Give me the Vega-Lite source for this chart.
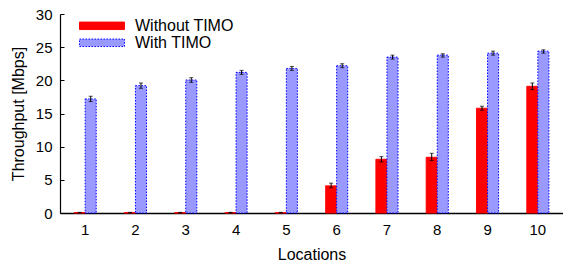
{
  "$schema": "https://vega.github.io/schema/vega-lite/v6.json",
  "width": 503,
  "height": 199,
  "autosize": {"type": "none"},
  "padding": {"left": 60, "top": 14, "right": 0, "bottom": 55},
  "background": "white",
  "config": {
    "font": "Liberation Sans",
    "view": {"stroke": null},
    "axis": {"domainColor": "black", "tickColor": "black", "labelColor": "black", "titleColor": "black", "labelFontSize": 15, "titleFontSize": 16, "titleFontWeight": "normal", "grid": false, "labelOverlap": false}
  },
  "data": {
    "values": [
      {"loc": "1", "series": "Without TIMO", "value": 0.05, "lo": 0.0, "hi": 0.1},
      {"loc": "2", "series": "Without TIMO", "value": 0.05, "lo": 0.0, "hi": 0.1},
      {"loc": "3", "series": "Without TIMO", "value": 0.05, "lo": 0.0, "hi": 0.1},
      {"loc": "4", "series": "Without TIMO", "value": 0.05, "lo": 0.0, "hi": 0.1},
      {"loc": "5", "series": "Without TIMO", "value": 0.05, "lo": 0.0, "hi": 0.1},
      {"loc": "6", "series": "Without TIMO", "value": 4.1, "lo": 3.8, "hi": 4.5},
      {"loc": "7", "series": "Without TIMO", "value": 8.1, "lo": 7.7, "hi": 8.5},
      {"loc": "8", "series": "Without TIMO", "value": 8.4, "lo": 7.9, "hi": 9.0},
      {"loc": "9", "series": "Without TIMO", "value": 15.8, "lo": 15.5, "hi": 16.1},
      {"loc": "10", "series": "Without TIMO", "value": 19.1, "lo": 18.6, "hi": 19.6},
      {"loc": "1", "series": "With TIMO", "value": 17.2, "lo": 16.8, "hi": 17.6},
      {"loc": "2", "series": "With TIMO", "value": 19.2, "lo": 18.8, "hi": 19.6},
      {"loc": "3", "series": "With TIMO", "value": 20.05, "lo": 19.7, "hi": 20.4},
      {"loc": "4", "series": "With TIMO", "value": 21.2, "lo": 20.9, "hi": 21.5},
      {"loc": "5", "series": "With TIMO", "value": 21.8, "lo": 21.5, "hi": 22.1},
      {"loc": "6", "series": "With TIMO", "value": 22.2, "lo": 21.9, "hi": 22.5},
      {"loc": "7", "series": "With TIMO", "value": 23.5, "lo": 23.2, "hi": 23.8},
      {"loc": "8", "series": "With TIMO", "value": 23.8, "lo": 23.5, "hi": 24.0},
      {"loc": "9", "series": "With TIMO", "value": 24.1, "lo": 23.8, "hi": 24.4},
      {"loc": "10", "series": "With TIMO", "value": 24.4, "lo": 24.1, "hi": 24.6}
    ]
  },
  "encoding": {
    "x": {
      "field": "loc", "type": "ordinal", "sort": null,
      "scale": {"paddingInner": 0.56, "paddingOuter": 0.28},
      "axis": {"title": "Locations", "labelAngle": 0, "labelPadding": 9, "titlePadding": 9, "tickSize": 0, "domainWidth": 1.5}
    },
    "xOffset": {"field": "series", "type": "nominal", "sort": ["Without TIMO", "With TIMO"]}
  },
  "layer": [
    {
      "mark": {"type": "bar", "strokeWidth": 1},
      "encoding": {
        "y": {
          "field": "value", "type": "quantitative",
          "scale": {"domain": [0, 30], "nice": false},
          "axis": {"title": "Throughput [Mbps]", "values": [0, 5, 10, 15, 20, 25, 30], "tickCount": 7, "labelOverlap": false, "tickSize": -4, "labelPadding": 12, "titlePadding": 9, "domainWidth": 1.2}
        },
        "fill": {
          "field": "series", "type": "nominal",
          "scale": {"domain": ["Without TIMO", "With TIMO"], "range": ["#ff0000", "#9999ff"]},
          "legend": {
            "title": null, "orient": "none", "legendX": 33.5, "legendY": 3.3,
            "symbolType": "M-2.81,-0.47H2.81V0.47H-2.81Z", "symbolSize": 256,
            "labelFontSize": 16, "labelColor": "black", "rowPadding": -0.5, "labelOffset": 24.5,
            "symbolStrokeWidth": 1
          }
        },
        "stroke": {
          "field": "series", "type": "nominal",
          "scale": {"domain": ["Without TIMO", "With TIMO"], "range": ["#ff0000", "#0000ff"]},
          "legend": null
        },
        "strokeDash": {
          "field": "series", "type": "nominal",
          "scale": {"domain": ["Without TIMO", "With TIMO"], "range": [[1, 0], [1.5, 1.5]]},
          "legend": null
        }
      }
    },
    {
      "mark": {"type": "rule", "color": "black", "strokeWidth": 1},
      "encoding": {
        "y": {"field": "lo", "type": "quantitative"},
        "y2": {"field": "hi"}
      }
    },
    {
      "mark": {"type": "tick", "color": "black", "size": 4, "thickness": 1},
      "encoding": {"y": {"field": "lo", "type": "quantitative"}}
    },
    {
      "mark": {"type": "tick", "color": "black", "size": 4, "thickness": 1},
      "encoding": {"y": {"field": "hi", "type": "quantitative"}}
    }
  ]
}
